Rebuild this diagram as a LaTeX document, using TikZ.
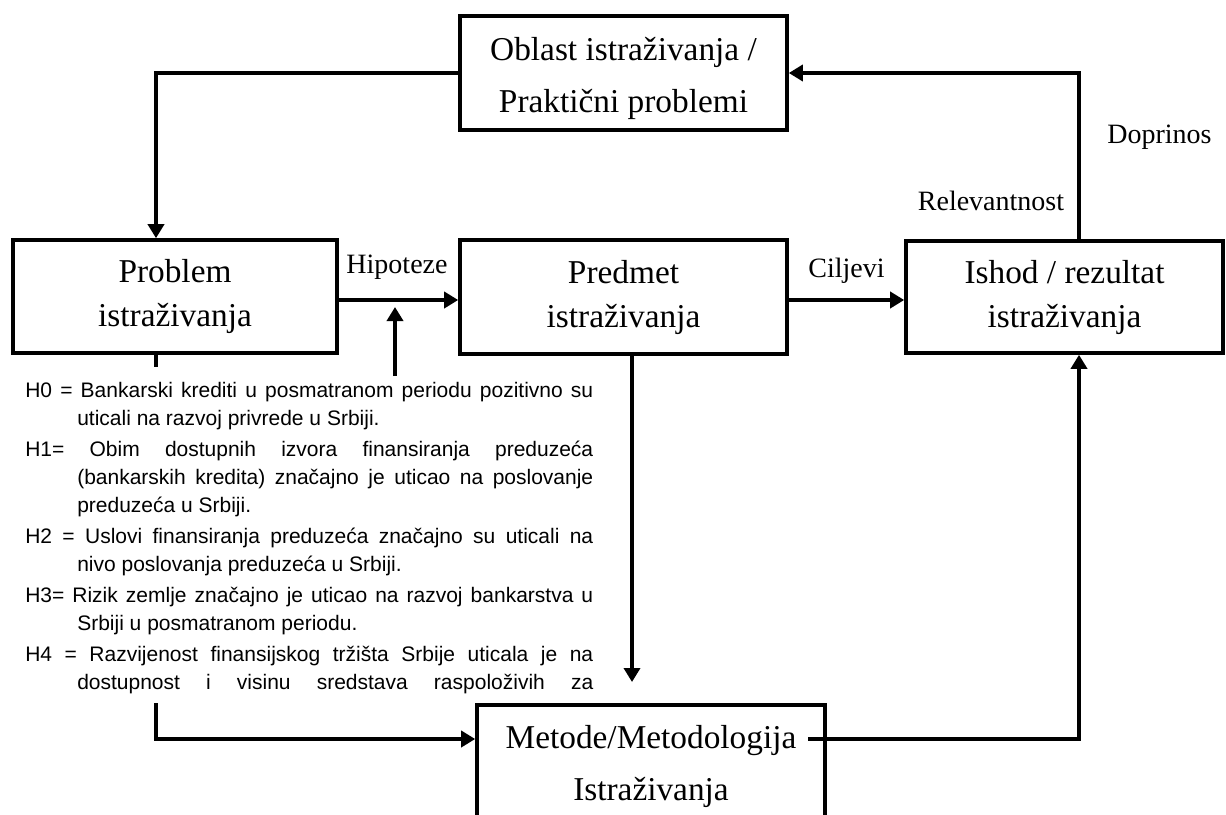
\documentclass[tikz,border=0pt]{standalone}
\usepackage{fontspec}
\setmainfont{Liberation Serif}
\newfontfamily\hypfont{Liberation Sans}
\usetikzlibrary{arrows.meta}
\begin{document}
\begin{tikzpicture}[x=0.75pt,y=-0.75pt,
  box/.style={draw, line width=2.7pt, inner sep=0pt, align=center, font=\fontsize{25pt}{33pt}\selectfont},
  boxwide/.style={box, font=\fontsize{25pt}{39pt}\selectfont},
  lbl/.style={anchor=base, inner sep=0pt, font=\fontsize{21pt}{25pt}\selectfont},
  conn/.style={line width=3pt},
  arr/.style={conn, -{Triangle[length=10.5pt,width=12pt]}},
  hyptext/.style={anchor=north west, inner sep=0pt, align=left, font=\hypfont\fontsize{15.75pt}{21pt}\selectfont}]
\useasboundingbox (0,0) rectangle (1226,814);
\clip (0,0) rectangle (1226,814);
\fill[white] (0,0) rectangle (1226,814);

% boxes
\node[boxwide, minimum width=245.25pt, minimum height=85.5pt] (obl) at (623.5,73) {\rule{0pt}{25pt}Oblast istraživanja /\\Praktični problemi};
\node[box, minimum width=243pt, minimum height=84.75pt] (prob) at (175,296.5) {Problem\\istraživanja};
\node[box, minimum width=245.25pt, minimum height=85.5pt] (pred) at (623.5,297) {Predmet\\istraživanja};
\node[box, minimum width=237.75pt, minimum height=84pt] (ish) at (1064.5,297) {Ishod / rezultat\\istraživanja};
\node[boxwide, minimum width=261pt, minimum height=91.5pt] (met) at (651,766) {Metode/Metodologija\\Istraživanja};

% labels
\node[lbl] (lhip) at (397,273) {Hipoteze};
\node[lbl] (lcil) at (846.5,277) {Ciljevi};
\node[lbl] (lrel) at (991,210) {Relevantnost};
\node[lbl] (ldop) at (1159.5,143) {Doprinos};

% hypotheses text
\node[hyptext] (hyp) at (25,382) {%
\makebox[426pt][s]{H0 = Bankarski krediti u posmatranom periodu pozitivno su}\\
\hspace*{39pt}uticali na razvoj privrede u Srbiji.\\[2.25pt]
\makebox[426pt][s]{H1= Obim dostupnih izvora finansiranja preduzeća}\\
\hspace*{39pt}\makebox[387pt][s]{(bankarskih kredita) značajno je uticao na poslovanje}\\
\hspace*{39pt}preduzeća u Srbiji.\\[2.25pt]
\makebox[426pt][s]{H2 = Uslovi finansiranja preduzeća značajno su uticali na}\\
\hspace*{39pt}nivo poslovanja preduzeća u Srbiji.\\[2.25pt]
\makebox[426pt][s]{H3= Rizik zemlje značajno je uticao na razvoj bankarstva u}\\
\hspace*{39pt}Srbiji u posmatranom periodu.\\[2.25pt]
\makebox[426pt][s]{H4 = Razvijenost finansijskog tržišta Srbije uticala je na}\\
\hspace*{39pt}\makebox[387pt][s]{dostupnost i visinu sredstava raspoloživih za}};

% coordinates
\coordinate (gtop) at (156,367);
\coordinate (gbot) at (156,703);
\coordinate (hypup) at (395,376);
\coordinate (hyptip) at (395,307);
\coordinate (predtip) at (632,682);
\coordinate (mstart) at (808,739);

% connectors
\draw[arr] (obl.west) -| (prob.north -| gtop);
\draw[arr] (prob.east |- 0,300) -- (pred.west |- 0,300);
\draw[arr] (pred.east |- 0,300) -- (ish.west |- 0,300);
\draw[arr] (ish.north -| 1079,0) |- (obl.east);
\draw[arr] (mstart) -| (ish.south -| 1079,0);
\draw[arr] (pred.south -| predtip) -- (predtip);
\draw[conn] (prob.south -| gtop) -- (gtop);
\draw[arr] (gbot) |- (met.west |- mstart);
\draw[arr] (hypup) -- (hyptip);
\end{tikzpicture}
\end{document}
